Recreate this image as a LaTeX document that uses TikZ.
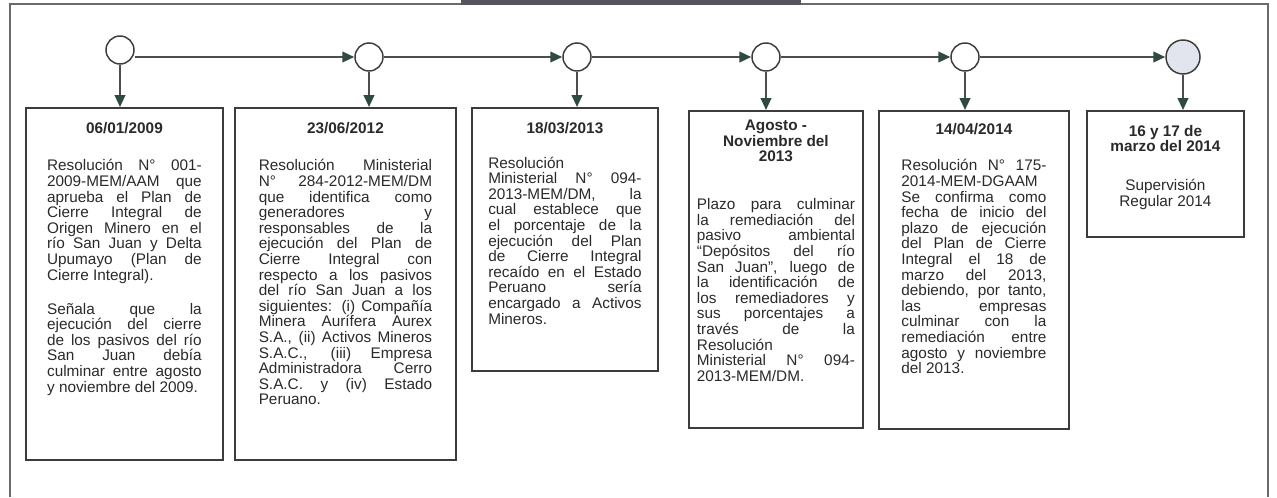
\documentclass[tikz,border=0pt]{standalone}
\usepackage{fontspec}
\setmainfont{Liberation Sans}
\usetikzlibrary{arrows.meta}

\definecolor{bordeGris}{HTML}{3C3C3C}
\definecolor{lineaGris}{HTML}{4D4D4D}
\definecolor{puntaVerde}{HTML}{2F4A42}
\definecolor{textoGris}{HTML}{2A2A2A}
\definecolor{marcoGris}{HTML}{6A6A6A}
\definecolor{bandaGris}{HTML}{55555E}
\definecolor{rellenoHito}{HTML}{E3E5EE}

\tolerance=10000 \pretolerance=-1
\hyphenpenalty=10000 \exhyphenpenalty=10000

\tikzset{every picture/.style={line width=0.75pt}}
\tikzset{
  hito/.style={circle, draw=bordeGris, line width=1.1pt, fill=white, minimum size=21pt, inner sep=0pt},
  caja/.style={draw=bordeGris, line width=1.4pt, fill=white, inner sep=0pt, anchor=north west,
    text=textoGris, font=\fontsize{11.5}{11.7}\selectfont},
  flecha/.style={draw=lineaGris, line width=1.5pt, -{Triangle[length=9pt,width=8pt,color=puntaVerde]}},
}

\begin{document}
\begin{tikzpicture}[x=0.75pt,y=0.75pt,yscale=-1,xscale=1]
\useasboundingbox (0,0) rectangle (1277,497);

%Shape: Frame
\draw [draw=marcoGris, line width=1.5pt] (10,497) -- (10,4) -- (1268,4) -- (1268,497) ;
\fill [bandaGris] (461,0) rectangle (801,5) ;

%Shape: Circle
\node [hito] (c1) at (120,50) {};
\node [hito] (c2) at (369,57) {};
\node [hito] (c3) at (577,57) {};
\node [hito] (c4) at (766,57) {};
\node [hito] (c5) at (965,57) {};
\node [hito, fill=rellenoHito, minimum size=25.5pt] (c6) at (1183,57) {};

% Text Node
\node [caja, minimum width=147.75pt, minimum height=264pt] (b1) at (25,107) {\parbox[c][264pt][t]{116pt}{\vspace*{10.9pt}{\centering\bfseries 06/01/2009\par}\vspace{16.3pt}%
Resolución N° 001-\linebreak 2009-MEM/AAM que\linebreak aprueba el Plan de\linebreak Cierre Integral de\linebreak Origen Minero en el\linebreak río San Juan y Delta\linebreak Upumayo (Plan de\linebreak Cierre Integral).\par\vspace{13.8pt}%
Señala que la\linebreak ejecución del cierre\linebreak de los pasivos del río\linebreak San Juan debía\linebreak culminar entre agosto\linebreak y noviembre del 2009.}};
% Text Node
\node [caja, minimum width=165.75pt, minimum height=264pt] (b2) at (234,107) {\parbox[c][264pt][t]{130pt}{\vspace*{10.9pt}{\centering\bfseries 23/06/2012\par}\vspace{16.3pt}%
Resolución Ministerial\linebreak N° 284-2012-MEM/DM\linebreak que identifica como\linebreak generadores y\linebreak responsables de la\linebreak ejecución del Plan de\linebreak Cierre Integral con\linebreak respecto a los pasivos\linebreak del río San Juan a los\linebreak siguientes: (i) Compañía\linebreak Minera Aurífera Aurex\linebreak S.A., (ii) Activos Mineros\linebreak S.A.C., (iii) Empresa\linebreak Administradora Cerro\linebreak S.A.C. y (iv) Estado\linebreak Peruano.}};
% Text Node
\node [caja, minimum width=139.5pt, minimum height=197.25pt] (b3) at (471,107) {\parbox[c][197.25pt][t]{115pt}{\vspace*{10.9pt}{\centering\bfseries 18/03/2013\par}\vspace{14.2pt}%
Resolución\linebreak Ministerial N° 094-\linebreak 2013-MEM/DM, la\linebreak cual establece que\linebreak el porcentaje de la\linebreak ejecución del Plan\linebreak de Cierre Integral\linebreak recaído en el Estado\linebreak Peruano sería\linebreak encargado a Activos\linebreak Mineros.}};
% Text Node
\node [caja, minimum width=130.5pt, minimum height=237.75pt] (b4) at (688,110) {\parbox[c][237.75pt][t]{118.5pt}{\vspace*{6.8pt}{\centering\bfseries Agosto -\\Noviembre del\\2013\par}\vspace{24.3pt}%
Plazo para culminar\linebreak la remediación del\linebreak pasivo ambiental\linebreak “Depósitos del río\linebreak San Juan”, luego de\linebreak la identificación de\linebreak los remediadores y\linebreak sus porcentajes a\linebreak través de la\linebreak Resolución\linebreak Ministerial N° 094-\linebreak 2013-MEM/DM.}};
% Text Node
\node [caja, minimum width=142.5pt, minimum height=238.5pt] (b5) at (878,110) {\parbox[c][238.5pt][t]{108.75pt}{\vspace*{9pt}{\centering\bfseries 14/04/2014\par}\vspace{16pt}%
Resolución N° 175-\linebreak 2014-MEM-DGAAM\linebreak Se confirma como\linebreak fecha de inicio del\linebreak plazo de ejecución\linebreak del Plan de Cierre\linebreak Integral el 18 de\linebreak marzo del 2013,\linebreak debiendo, por tanto,\linebreak las empresas\linebreak culminar con la\linebreak remediación entre\linebreak agosto y noviembre\linebreak del 2013.}};
% Text Node
\node [caja, minimum width=117.75pt, minimum height=94.5pt] (b6) at (1086,110) {\parbox[c][94.5pt][t]{100pt}{\vspace*{10.5pt}{\centering\bfseries 16 y 17 de\\marzo del 2014\par}\vspace{17.5pt}%
{\centering Supervisión\\Regular 2014\par}}};

%Straight Lines
\draw [flecha] (c1.east |- c2) -- (c2) ;
\draw [flecha] (c2) -- (c3) ;
\draw [flecha] (c3) -- (c4) ;
\draw [flecha] (c4) -- (c5) ;
\draw [flecha] (c5) -- (c6) ;

%Straight Lines
\draw [flecha] (c1) -- (c1 |- b1.north) ;
\draw [flecha] (c2) -- (c2 |- b2.north) ;
\draw [flecha] (c3) -- (c3 |- b3.north) ;
\draw [flecha] (c4) -- (c4 |- b4.north) ;
\draw [flecha] (c5) -- (c5 |- b5.north) ;
\draw [flecha] (c6) -- (c6 |- b6.north) ;

\end{tikzpicture}
\end{document}
